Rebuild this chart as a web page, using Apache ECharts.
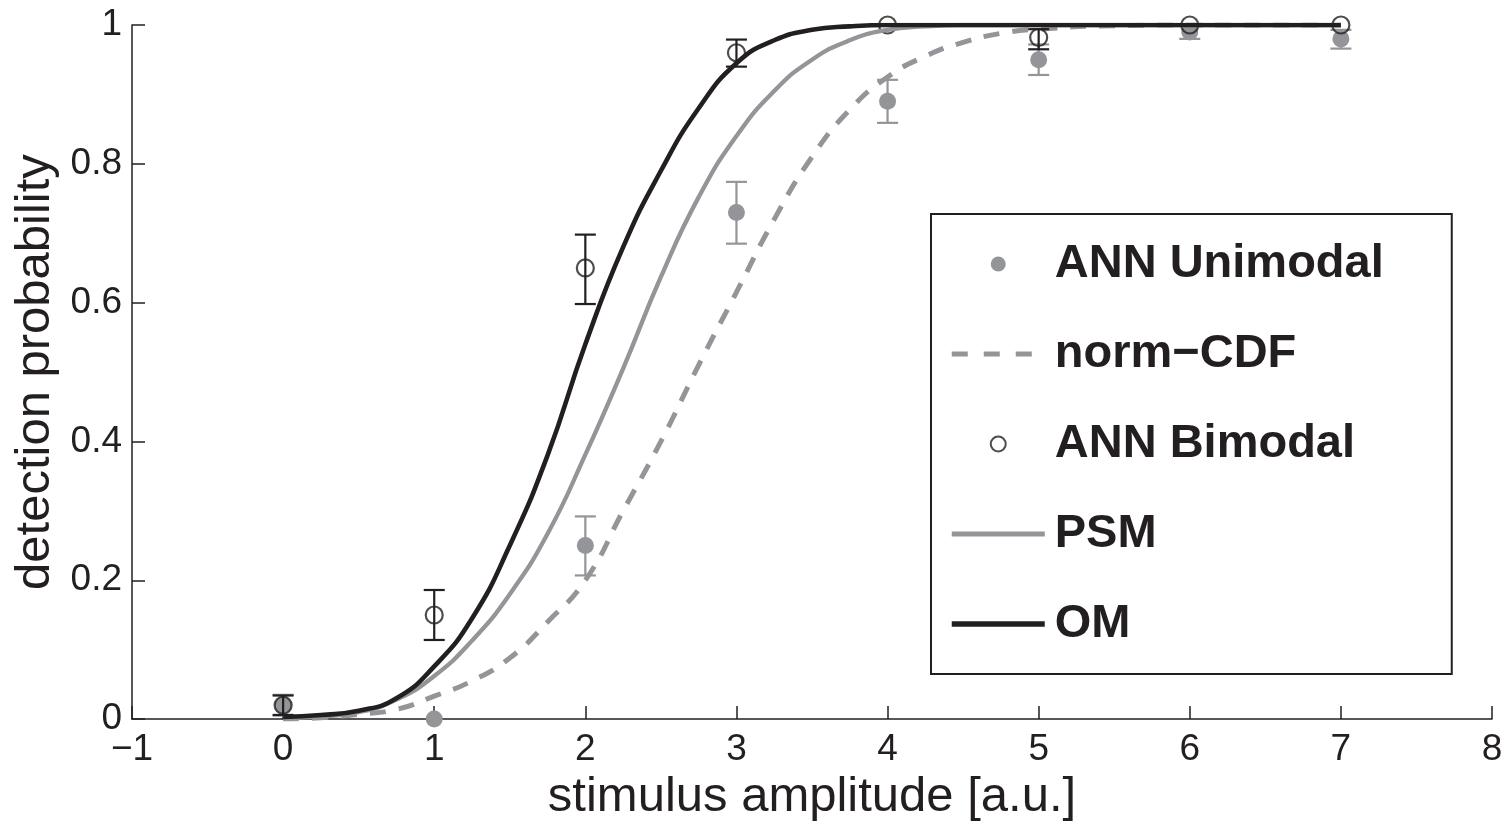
<!DOCTYPE html>
<html>
<head>
<meta charset="utf-8">
<script src="https://cdn.jsdelivr.net/npm/echarts@6/dist/echarts.min.js"></script>
<style>
  html, body { margin: 0; padding: 0; background: #fff; }
  #chart { width: 1509px; height: 827px; }
</style>
</head>
<body>
<div id="chart"></div>
<script>
// stimulus amplitudes where the networks were tested
let stimX = [0, 1, 2, 3, 4, 5, 6, 7];

// ANN Unimodal (grey dots) with error bar limits
let uniY  = [0.02, 0.0, 0.25, 0.73, 0.89, 0.95, 0.99, 0.98];
let uniLo = [0.005, 0.0, 0.207, 0.685, 0.859, 0.928, 0.98, 0.966];
let uniHi = [0.035, 0.0, 0.292, 0.774, 0.921, 0.972, 1.0, 0.993];

// ANN Bimodal (open circles) with error bar limits
let biY  = [0.02, 0.15, 0.65, 0.96, 1.0, 0.982, 1.0, 1.0];
let biLo = [0.006, 0.114, 0.598, 0.94, 1.0, 0.965, 1.0, 1.0];
let biHi = [0.034, 0.186, 0.698, 0.979, 1.0, 0.994, 1.0, 1.0];

// fitted curves
let curveX = [0, 0.25, 0.5, 0.75, 1.0, 1.25, 1.5, 1.75, 2.0, 2.25, 2.5, 2.75, 3.0, 3.25, 3.5, 3.75, 4.0, 4.25, 4.5, 4.75, 5.0, 5.5, 6.0, 7.0];
let normCdfY = [0.0, 0.002, 0.007, 0.014, 0.033, 0.055, 0.088, 0.14, 0.2, 0.3, 0.4, 0.51, 0.615, 0.72, 0.81, 0.878, 0.925, 0.955, 0.975, 0.988, 0.994, 0.999, 1.0, 1.0];
let psmY     = [0.001, 0.004, 0.01, 0.028, 0.062, 0.113, 0.18, 0.267, 0.381, 0.505, 0.637, 0.752, 0.84, 0.905, 0.95, 0.978, 0.993, 0.998, 1.0, 1.0, 1.0, 1.0, 1.0, 1.0];
let omY      = [0.003, 0.006, 0.012, 0.03, 0.076, 0.145, 0.25, 0.38, 0.54, 0.68, 0.79, 0.88, 0.945, 0.978, 0.993, 0.998, 1.0, 1.0, 1.0, 1.0, 1.0, 1.0, 1.0, 1.0];

let xTicks = { min: -1, max: 8, interval: 1 };
let yTicks = { min: 0, max: 1, interval: 0.2 };

const GREY = '#939598';
const DARK = '#231f20';
const FONT = '"Liberation Sans", Arial, Helvetica, sans-serif';
const NO_DOT = { color: 'rgba(0,0,0,0)', borderWidth: 0 };

function pairs(xs, ys) {
    return xs.map((x, i) => [x, ys[i]]);
}

function errData(lo, hi) {
    return stimX.map((x, i) => [x, lo[i], hi[i]]).filter(d => d[2] > d[1]);
}

function errRender(color) {
    return function (params, api) {
        let x = api.value(0);
        let p1 = api.coord([x, api.value(1)]);
        let p2 = api.coord([x, api.value(2)]);
        let w = 10.5;
        let style = { stroke: color, lineWidth: 2.2 };
        return {
            type: 'group',
            children: [
                { type: 'line', shape: { x1: p1[0], y1: p1[1], x2: p2[0], y2: p2[1] }, style: style },
                { type: 'line', shape: { x1: p1[0] - w, y1: p1[1], x2: p1[0] + w, y2: p1[1] }, style: style },
                { type: 'line', shape: { x1: p2[0] - w, y1: p2[1], x2: p2[0] + w, y2: p2[1] }, style: style }
            ]
        };
    };
}

let chart = echarts.init(document.getElementById('chart'), null, { renderer: 'canvas' });

let option = {
    animation: false,
    backgroundColor: '#fff',
    textStyle: { fontFamily: FONT },
    grid: { left: 132, right: 17, top: 25, bottom: 105, containLabel: false },
    legend: {
        left: 931,
        top: 214,
        orient: 'vertical',
        selectedMode: false,
        padding: [25, 68, 25, 18],
        itemGap: 40,
        itemWidth: 93,
        itemHeight: 15,
        borderColor: DARK,
        borderWidth: 2,
        borderRadius: 0,
        backgroundColor: '#fff',
        textStyle: {
            fontFamily: FONT,
            fontSize: 47,
            fontWeight: 'bold',
            color: DARK,
            lineHeight: 50,
            padding: [0, 0, 0, 5]
        },
        data: [
            { name: 'ANN Unimodal' },
            { name: 'norm\u2212CDF', lineStyle: { type: [16, 16], width: 5 }, itemStyle: NO_DOT },
            { name: 'ANN Bimodal' },
            { name: 'PSM', lineStyle: { width: 5 }, itemStyle: NO_DOT },
            { name: 'OM', lineStyle: { width: 5.5 }, itemStyle: NO_DOT }
        ]
    },
    xAxis: {
        type: 'value',
        min: xTicks.min,
        max: xTicks.max,
        interval: xTicks.interval,
        name: 'stimulus amplitude [a.u.]',
        nameLocation: 'middle',
        nameGap: 40,
        nameTextStyle: { fontFamily: FONT, fontSize: 49, color: DARK },
        axisLine: { show: true, onZero: false, lineStyle: { color: DARK, width: 1.5 } },
        axisTick: { show: true, inside: true, length: 13, lineStyle: { color: DARK, width: 1.5 } },
        axisLabel: {
            fontFamily: FONT, fontSize: 37, color: DARK, margin: 12,
            formatter: v => String(v).replace('-', '\u2212')
        },
        splitLine: { show: false }
    },
    yAxis: {
        type: 'value',
        min: yTicks.min,
        max: yTicks.max,
        interval: yTicks.interval,
        name: 'detection probability',
        nameLocation: 'middle',
        nameGap: 68,
        nameTextStyle: { fontFamily: FONT, fontSize: 49, color: DARK },
        axisLine: { show: true, onZero: false, lineStyle: { color: DARK, width: 1.5 } },
        axisTick: { show: true, inside: true, length: 13, lineStyle: { color: DARK, width: 1.5 } },
        axisLabel: { fontFamily: FONT, fontSize: 37, color: DARK, margin: 10 },
        splitLine: { show: false }
    },
    series: [
        {
            name: 'uniErr',
            type: 'custom',
            renderItem: errRender(GREY),
            data: errData(uniLo, uniHi),
            encode: { x: 0, y: [1, 2] },
            z: 2,
            silent: true
        },
        {
            name: 'ANN Unimodal',
            type: 'scatter',
            symbol: 'circle',
            symbolSize: 17,
            itemStyle: { color: GREY, opacity: 1 },
            data: pairs(stimX, uniY),
            z: 3
        },
        {
            name: 'norm\u2212CDF',
            type: 'line',
            symbol: 'none',
            smooth: 0.5,
            lineStyle: { color: GREY, width: 5, type: [16, 13] },
            itemStyle: { color: GREY },
            data: pairs(curveX, normCdfY),
            z: 4
        },
        {
            name: 'biErr',
            type: 'custom',
            renderItem: errRender(DARK),
            data: errData(biLo, biHi),
            encode: { x: 0, y: [1, 2] },
            z: 5,
            silent: true
        },
        {
            name: 'ANN Bimodal',
            type: 'scatter',
            symbol: 'circle',
            symbolSize: 17,
            itemStyle: { color: 'rgba(255,255,255,0)', borderColor: DARK, borderWidth: 2.2 },
            data: pairs(stimX, biY),
            z: 6
        },
        {
            name: 'PSM',
            type: 'line',
            symbol: 'none',
            smooth: 0.5,
            lineStyle: { color: GREY, width: 4.3 },
            itemStyle: { color: GREY },
            data: pairs(curveX, psmY),
            z: 7
        },
        {
            name: 'OM',
            type: 'line',
            symbol: 'none',
            smooth: 0.5,
            lineStyle: { color: DARK, width: 4.6 },
            itemStyle: { color: DARK },
            data: pairs(curveX, omY),
            z: 8
        }
    ]
};

chart.setOption(option);
</script>
</body>
</html>
